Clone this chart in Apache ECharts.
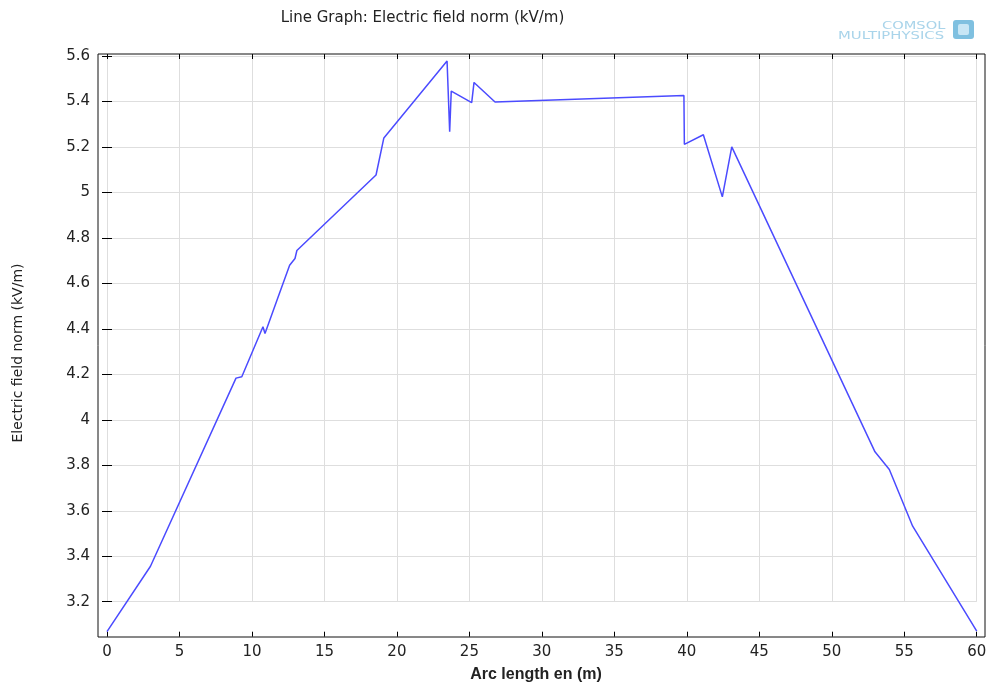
<!DOCTYPE html>
<html><head><meta charset="utf-8">
<script src="https://cdn.jsdelivr.net/npm/echarts@6/dist/echarts.min.js"></script>
<style>html,body{margin:0;padding:0;background:#fff}#c{width:989px;height:685px}</style>
</head><body><div id="c"></div>
<script>
const arcLength = [0, 3.0, 8.9, 9.3, 10.76, 10.9, 11.8, 12.6, 12.97, 13.1, 18.56, 19.1, 23.46, 23.64, 23.75, 25.16, 25.32, 26.77, 39.8, 39.83, 41.14, 42.45, 43.1, 52.98, 53.97, 55.58, 60];
const fieldNorm = [3.07, 3.357, 4.184, 4.19, 4.41, 4.38, 4.54, 4.68, 4.71, 4.745, 5.077, 5.24, 5.578, 5.267, 5.446, 5.395, 5.484, 5.398, 5.427, 5.212, 5.254, 4.981, 5.201, 3.86, 3.782, 3.533, 3.072];
const xTicks = {min: 0, max: 60, interval: 5};
const yTicks = {min: 3.2, max: 5.6, interval: 0.2};
const titleText = 'Line Graph: Electric field norm (kV/m)';
const xName = 'Arc length en (m)';
const yName = 'Electric field norm (kV/m)';

const chart = echarts.init(document.getElementById('c'));
const font = 'DejaVu Sans';
const tickLbl = {fontFamily: font, fontSize: 15, color: '#222'};
const hidden = {show: false};
const decoAxisX = (pos, offset, labels) => ({
  type: 'value', gridIndex: 1, position: pos, offset: offset,
  min: xTicks.min, max: xTicks.max, interval: xTicks.interval,
  axisLine: {show: false},
  axisTick: {show: true, inside: true, length: 5, lineStyle: {color: '#000'}},
  axisLabel: labels ? Object.assign({show: true, margin: 8}, tickLbl) : {show: false},
  splitLine: {show: labels, lineStyle: {color: '#dedede', width: 1}}
});
const decoAxisY = (pos, offset, labels) => ({
  type: 'value', gridIndex: 1, position: pos, offset: offset,
  min: yTicks.min, max: yTicks.max, interval: yTicks.interval,
  axisLine: {show: false},
  axisTick: {show: true, inside: true, length: 5, lineStyle: {color: '#000'}},
  axisLabel: labels ? Object.assign({show: true, margin: 8}, tickLbl) : {show: false},
  splitLine: {show: labels, lineStyle: {color: '#dedede', width: 1}}
});
chart.setOption({
  animation: false,
  backgroundColor: '#fff',
  grid: [
    {left: 98, right: 4, top: 54, bottom: 48, show: true, borderColor: '#111', borderWidth: 1, backgroundColor: 'transparent', z: 3, containLabel: false, outerBoundsMode: 'none'},
    {left: 107, right: 12.3, top: 56, bottom: 83.3, show: false, containLabel: false, outerBoundsMode: 'none'}
  ],
  xAxis: [
    {type: 'value', gridIndex: 0, min: -0.62, max: 60.57, axisLine: hidden, axisTick: hidden, axisLabel: hidden, splitLine: hidden},
    decoAxisX('bottom', 35, true),
    decoAxisX('top', 2, false)
  ],
  yAxis: [
    {type: 'value', gridIndex: 0, min: 3.046, max: 5.609, axisLine: hidden, axisTick: hidden, axisLabel: hidden, splitLine: hidden},
    decoAxisY('left', 9, true),
    decoAxisY('right', 8.3, false)
  ],
  graphic: [
    {type: 'text', x: 422.5, y: 18, style: {text: titleText, font: '15px "DejaVu Sans"', fill: '#222', align: 'center', verticalAlign: 'middle'}},
    {type: 'text', x: 536, y: 675, style: {text: xName, font: 'bold 16px "Liberation Sans"', fill: '#222', align: 'center', verticalAlign: 'middle'}},
    {type: 'text', x: 18, y: 353, rotation: Math.PI / 2, style: {text: yName, font: '14px "DejaVu Sans"', fill: '#222', align: 'center', verticalAlign: 'middle'}},
    {type: 'text', x: 882, y: 21, scaleX: 1.33, style: {text: 'COMSOL', font: '11px "DejaVu Sans"', fill: '#a9d4ea'}},
    {type: 'text', x: 838, y: 31, scaleX: 1.35, style: {text: 'MULTIPHYSICS', font: '11px "DejaVu Sans"', fill: '#a9d4ea'}},
    {type: 'rect', shape: {x: 953, y: 20, width: 21, height: 19, r: 3}, style: {fill: '#7fc0e0'}},
    {type: 'rect', shape: {x: 958, y: 24, width: 11, height: 11, r: 2}, style: {fill: '#c8e6f5'}}
  ],
  series: [{
    type: 'line', xAxisIndex: 0, yAxisIndex: 0, showSymbol: false, symbol: 'none',
    data: arcLength.map((x, i) => [x, fieldNorm[i]]),
    lineStyle: {color: '#4b4bff', width: 1.5}, z: 5
  }]
});
</script></body></html>
